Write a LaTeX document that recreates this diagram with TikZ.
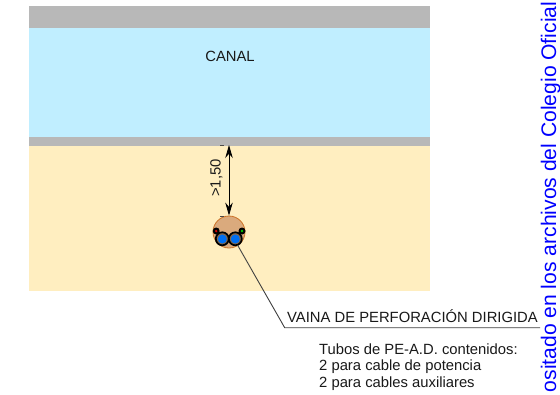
\documentclass[tikz,border=0pt]{standalone}
\usepackage{fontspec}
\setmainfont{Liberation Sans}
\usetikzlibrary{arrows.meta}
\definecolor{roadgray}{RGB}{184,184,184}
\definecolor{canalblue}{RGB}{192,238,255}
\definecolor{soilsand}{RGB}{255,238,192}
\definecolor{sheath}{RGB}{218,170,125}
\definecolor{sheathedge}{RGB}{205,115,40}
\definecolor{tubeblue}{RGB}{0,110,240}
\tikzset{
  lbl/.style={inner sep=0pt,text=black!90,font=\fontsize{14.8}{17}\selectfont},
  small/.style={inner sep=0pt,text=black!90,font=\fontsize{14.8}{17}\selectfont,anchor=base west},
  tubering/.style={circle,draw=black,line width=1.7pt,fill=sheath!60!black,inner sep=0pt,minimum size=13pt},
  tubecore/.style={circle,fill=tubeblue,inner sep=0pt,minimum size=9pt},
  minitube/.style={circle,fill=black,inner sep=0pt,minimum size=7pt},
  minicore/.style={circle,inner sep=0pt,minimum size=2.6pt},
  dimline/.style={draw=black,line width=0.9pt,{Stealth[length=13pt,width=7.5pt]}-{Stealth[length=13pt,width=7.5pt]}},
  dimtick/.style={draw=black!70,line width=0.8pt},
  leader/.style={draw=black!75,line width=0.9pt}
}
\begin{document}
\begin{tikzpicture}[x=1pt,y=-1pt]
\useasboundingbox (0,0) rectangle (560,394);
\clip (0,0) rectangle (560,394);
\fill[white] (0,0) rectangle (560,394);
\fill[roadgray] (29,6) rectangle (430,28);
\fill[canalblue] (29,28) rectangle (430,137);
\fill[roadgray] (29,137) rectangle (430,146);
\fill[soilsand] (29,146) rectangle (430,291);
\node[lbl] (canal) at (230,56) {CANAL};
\node[circle,draw=sheathedge,fill=sheath,line width=0.8pt,minimum size=32pt,inner sep=0pt] (vaina) at (229,232) {};
\coordinate (surface) at (229,145);
\draw[dimline] (surface) -- (vaina.north);
\coordinate (tickA) at (220,145.5);
\coordinate (tickB) at (224,145.5);
\coordinate (tickC) at (220,216);
\coordinate (tickD) at (224,216);
\draw[dimtick] (tickA) -- (tickB);
\draw[dimtick] (tickC) -- (tickD);
\node[lbl,rotate=90] (dim) at (216.5,178) {>1,50};
\node[tubering] (t1) at (222.3,238.8) {};
\node[tubering] (t2) at (235.3,238.8) {};
\node[tubecore] (c1) at (222.3,239) {};
\node[tubecore] (c2) at (235.3,239) {};
\node[minitube] (m1) at (216.2,231) {};
\node[minitube] (m2) at (242,231) {};
\node[minicore,fill=red!85!black] (r1) at (216.2,231) {};
\node[minicore,fill=green!80!black] (r2) at (242,231) {};
\coordinate (leadstart) at (237.5,245);
\coordinate (corner) at (284.7,327.7);
\coordinate (leadend) at (540,327.7);
\draw[leader] (leadstart) -- (corner) -- (leadend);
\node[lbl,anchor=base west] (vtext) at (287,322.7) {VAINA DE PERFORACIÓN DIRIGIDA};
\node[small] (l1) at (319,354) {Tubos de PE-A.D. contenidos:};
\node[small] (l2) at (319,370.7) {2 para cable de potencia};
\node[small] (l3) at (319,387.7) {2 para cables auxiliares};
\node[inner sep=0pt,rotate=90,anchor=base east,text=blue,font=\fontsize{21.1}{23}\selectfont] (stamp) at (556,1.5) {ositado en los archivos del Colegio Oficial};
\end{tikzpicture}
\end{document}
